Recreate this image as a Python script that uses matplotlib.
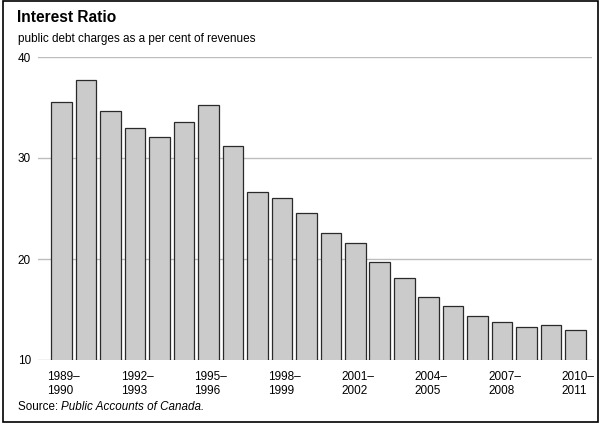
import numpy as np
import matplotlib
matplotlib.use("Agg")
import matplotlib.pyplot as plt
import matplotlib.transforms as mtransforms
from matplotlib.patches import Rectangle

plt.rcParams['font.family'] = ['Liberation Sans', 'DejaVu Sans']

# fiscal years, 1989-1990 .. 2010-2011
start_years = list(range(1989, 2011))
ratio = [35.5, 37.7, 34.7, 33.0, 32.1, 33.6, 35.2, 31.2, 26.6, 26.0, 24.6,
         22.6, 21.6, 19.7, 18.1, 16.2, 15.3, 14.4, 13.8, 13.3, 13.5, 13.0]
label_every = 3
y_ticks = [10, 20, 30, 40]

x = np.arange(len(ratio))

fig = plt.figure(figsize=(6.02, 4.25), dpi=100)
ax = fig.add_axes([38/602, 1-360/425, (592-38)/602, (360-57)/425])

ax.bar(x, ratio, width=0.84, bottom=0, color='#cbcbcb', edgecolor='#2a2a2a',
       linewidth=0.9, zorder=3)

ax.set_ylim(10, 40)
ax.set_xlim(-0.96, 21.67)
ax.set_yticks(y_ticks)
ax.set_yticklabels([str(t) for t in y_ticks], fontsize=8.5)
ax.yaxis.grid(True, color='#bdbdbd', linewidth=1.0, zorder=0)
ax.tick_params(axis='y', length=0, pad=5)

# x labels every third year, left-aligned at the bar's left edge
idx = x[::label_every]
labels = ['%d\u2013\n%d' % (start_years[i], start_years[i] + 1) for i in idx]
ax.set_xticks(idx)
ax.set_xticklabels(labels, fontsize=8.5, ha='left', linespacing=1.2)
ax.tick_params(axis='x', length=0, pad=8)
offset = mtransforms.ScaledTranslation(-0.14, 0, fig.dpi_scale_trans)
for lab in ax.get_xticklabels():
    lab.set_transform(lab.get_transform() + offset)

for s in ax.spines.values():
    s.set_visible(False)

fig.text(17/602, 1-18/425, 'Interest Ratio', fontsize=11.2, fontweight='bold', va='center')
fig.text(18/602, 1-39/425, 'public debt charges as a per cent of revenues', fontsize=8.5, va='center')
t1 = fig.text(18/602, 1-407/425, 'Source: ', fontsize=8.4, va='center')
ax.annotate('Public Accounts of Canada.', xy=(1, 0.5), xycoords=t1, va='center',
            fontsize=8.4, style='italic', annotation_clip=False)

fig.patches.append(Rectangle((3/602, 1-422/425), 595/602, 421/425, transform=fig.transFigure,
                             fill=False, edgecolor='black', linewidth=1.2))

fig.savefig('out.png', dpi=100)
